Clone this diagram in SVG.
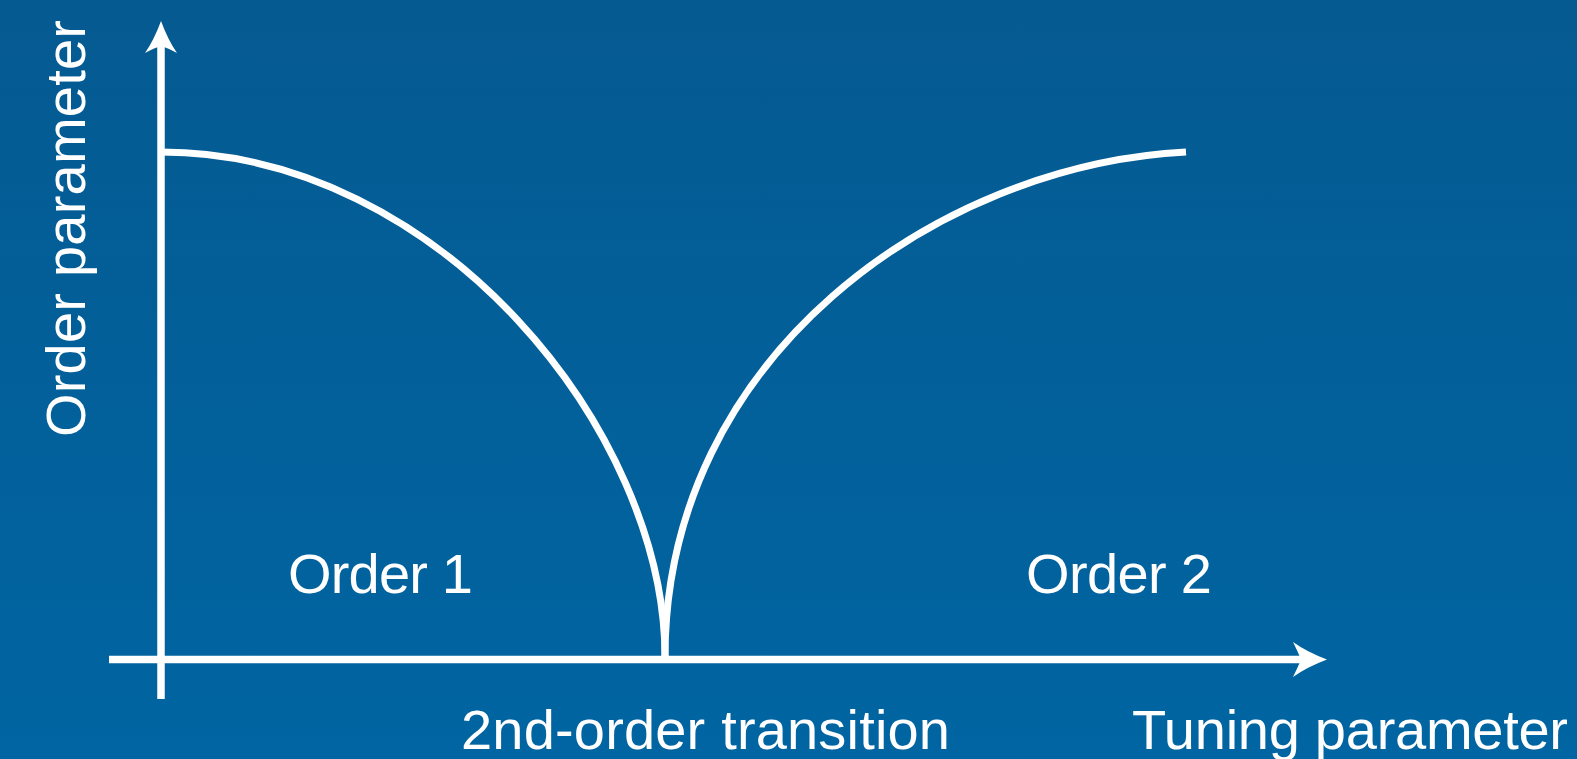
<svg xmlns="http://www.w3.org/2000/svg" width="1577" height="759" viewBox="0 0 1577 759">
  <defs>
    <linearGradient id="bg" x1="0" y1="0" x2="0" y2="1">
      <stop offset="0" stop-color="#055a91"/>
      <stop offset="1" stop-color="#0065a2"/>
    </linearGradient>
  </defs>
  <style>
    .ln { fill: none; stroke: #ffffff; stroke-width: 7.5; stroke-linecap: butt; }
    .cv { fill: none; stroke: #ffffff; stroke-width: 7; stroke-linecap: butt; }
    .head { fill: #ffffff; stroke: none; }
    .lbl { font-family: "Liberation Sans", Arial, sans-serif; font-size: 56px; fill: #ffffff; }
  </style>
  <rect x="0" y="0" width="1577" height="759" fill="url(#bg)"/>

  <g id="connectors">
    <g id="y-axis">
      <line class="ln" x1="161" y1="699" x2="161" y2="44"/>
      <path class="head" d="M161,21 Q168,40 177,53 Q168,48 161,46 Q154,48 145,53 Q154,40 161,21 Z"/>
    </g>
    <g id="x-axis">
      <line class="ln" x1="109" y1="659.5" x2="1303" y2="659.5"/>
      <path class="head" d="M1327,659.5 Q1307,652 1293,642 Q1298,652 1301,659.5 Q1298,667 1293,677 Q1307,667 1327,659.5 Z"/>
    </g>
  </g>

  <g id="curve-order1">
    <path class="cv" d="M161,152 C440,152 665,432 665,657"/>
  </g>
  <g id="curve-order2">
    <path class="cv" d="M665,657 C665,357 936,165 1186,152"/>
  </g>

  <g id="label-order1">
    <text class="lbl" x="288" y="593" textLength="185" lengthAdjust="spacing">Order 1</text>
  </g>
  <g id="label-order2">
    <text class="lbl" x="1026" y="593" textLength="186" lengthAdjust="spacing">Order 2</text>
  </g>
  <g id="label-transition">
    <text class="lbl" x="461" y="749" textLength="489" lengthAdjust="spacing">2nd-order transition</text>
  </g>
  <g id="label-tuning">
    <text class="lbl" x="1132" y="749" textLength="436" lengthAdjust="spacing">Tuning parameter</text>
  </g>
  <g id="label-order-parameter">
    <text class="lbl" x="0" y="0" transform="translate(85,437) rotate(-90)" textLength="417" lengthAdjust="spacing">Order parameter</text>
  </g>
</svg>
